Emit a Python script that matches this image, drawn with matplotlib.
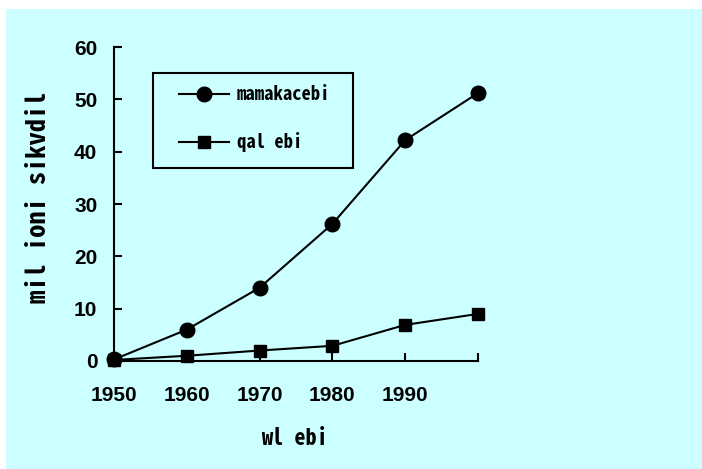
import matplotlib.pyplot as plt
from matplotlib.patches import Rectangle

# data
years = [1950, 1960, 1970, 1980, 1990, 2000]
mamakacebi = [0.3, 6.0, 14.0, 26.2, 42.2, 51.2]
qalebi = [0.2, 1.0, 2.0, 2.9, 6.9, 9.0]
xtick_labels = ["1950", "1960", "1970", "1980", "1990", ""]
yticks = [0, 10, 20, 30, 40, 50, 60]

narrow = ['Noto Sans Mono CJK JP', 'Liberation Sans Narrow', 'DejaVu Sans']
cyan = '#ccffff'

fig = plt.figure(figsize=(7.02, 4.69), dpi=100, facecolor='white')
fig.patches.append(Rectangle((6 / 702, 0), 1, 1 - 9 / 469, transform=fig.transFigure,
                             facecolor=cyan, edgecolor='none', zorder=-10))
ax = fig.add_axes([114 / 702, 1 - 361 / 469, 364 / 702, 314 / 469])
ax.set_facecolor('none')

ax.plot(years, mamakacebi, color='black', lw=1.5, marker='o', ms=10.5,
        label='mamakacebi', clip_on=False, zorder=3)
ax.plot(years, qalebi, color='black', lw=1.5, marker='s', ms=8.5,
        label='qal ebi', clip_on=False, zorder=3)

ax.set_xlim(1950, 2000)
ax.set_ylim(0, 60)
ax.set_xticks(years)
ax.set_xticklabels(xtick_labels)
ax.set_yticks(yticks)
for s in ['top', 'right']:
    ax.spines[s].set_visible(False)
for s in ['left', 'bottom']:
    ax.spines[s].set_linewidth(1.5)
ax.tick_params(axis='both', direction='in', length=6, width=1.5)
ax.tick_params(axis='x', pad=18)
ax.tick_params(axis='y', pad=12)
for lab in ax.get_xticklabels() + ax.get_yticklabels():
    lab.set_fontfamily(['Liberation Sans', 'DejaVu Sans'])
    lab.set_fontweight('bold')
    lab.set_fontsize(15)

ax.set_xlabel('wl ebi', family=narrow, fontsize=16, fontweight='bold', va='center')
ax.xaxis.set_label_coords(0.495, -0.245)
ax.set_ylabel('mil ioni sikvdil', family=narrow, fontsize=19, fontweight='bold', va='center')
ax.yaxis.set_label_coords(-0.209, 0.522)

leg = ax.legend(loc='center left', bbox_to_anchor=(0.179, 0.772), frameon=False,
                borderpad=0, borderaxespad=0, handlelength=2.7, handletextpad=0.4,
                labelspacing=1.5, prop={'family': narrow, 'size': 13.4, 'weight': 'bold'})
ax.add_patch(Rectangle((0.107, 0.615), 0.55, 0.302, transform=ax.transAxes,
                       fill=False, edgecolor='black', lw=1.5, clip_on=False))

fig.savefig('out.png', dpi=100, facecolor='white')
